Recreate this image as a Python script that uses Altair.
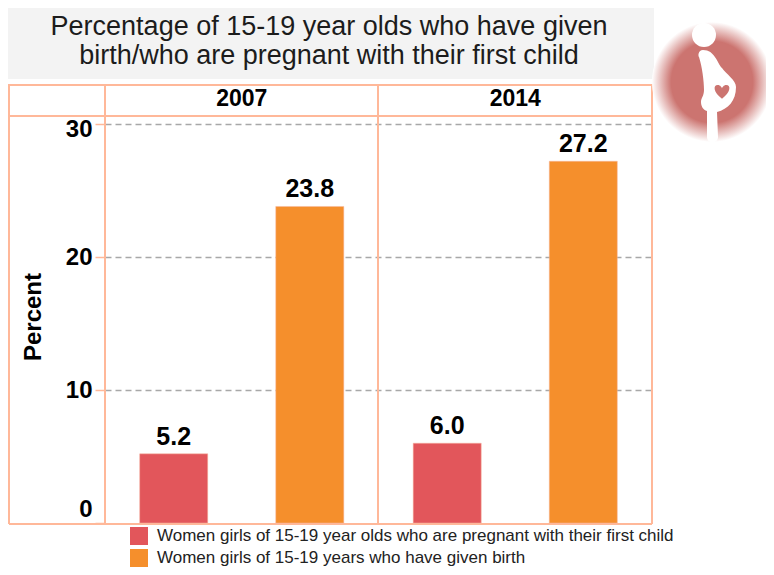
import altair as alt
import pandas as pd

years = ["2007", "2007", "2014", "2014"]
series = ["Women girls of 15-19 year olds who are pregnant with their first child",
          "Women girls of 15-19 years who have given birth"]
groups = [series[0], series[1], series[0], series[1]]
values = [5.2, 23.8, 6.0, 27.2]
labels = ["5.2", "23.8", "6.0", "27.2"]
ticks = [0, 10, 20, 30]
colors = ["#E2565B", "#F58F2C"]
title_lines = ["Percentage of 15-19 year olds who have given",
               "birth/who are pregnant with their first child"]

df = pd.DataFrame({"year": years, "group": groups, "value": values, "label": labels})
one = pd.DataFrame({"a": [1]})
FONT = "Liberation Sans"
FRAME = "#FFB899"

# plot area origin on the page is (105, 116)
def px(x): return x - 105
def py(y): return y - 116

xs = alt.X("year:N", axis=None, scale=alt.Scale(paddingInner=0, paddingOuter=0))
xo = alt.XOffset("group:N", sort=series,
                 scale=alt.Scale(domain=series, paddingInner=0.5, paddingOuter=0.255))
ys = alt.Y("value:Q", title=None,
           scale=alt.Scale(domain=[0, 30], range=[407, 8], nice=False),
           axis=alt.Axis(values=ticks, format="d", domain=False, ticks=True,
                         tickColor=FRAME, tickSize=10, tickWidth=1.5,
                         labelFont=FONT, labelFontSize=24, labelFontWeight="bold",
                         labelColor="#000", labelPadding=3,
                         labelOffset=alt.expr("datum.value == 0 ? -14 : datum.value == 30 ? 5 : 0"),
                         grid=True, gridColor="#A8A8A8", gridDash=[6, 4], gridWidth=1.5,
                         gridOpacity=alt.expr("datum.value == 0 ? 0 : 1")))

bg = alt.Chart(one).mark_rect(color="#F3F3F3").encode(
    x=alt.value(px(8)), x2=alt.value(px(654)), y=alt.value(py(8)), y2=alt.value(py(79)))

frame = []
for y in [85, 116, 524]:
    frame.append(alt.Chart(one).mark_rule(color=FRAME, strokeWidth=2).encode(
        x=alt.value(px(9)), x2=alt.value(px(652)), y=alt.value(py(y))))
for x in [9, 105, 378, 652]:
    frame.append(alt.Chart(one).mark_rule(color=FRAME, strokeWidth=2).encode(
        x=alt.value(px(x)), y=alt.value(py(84)), y2=alt.value(py(524))))

bars = alt.Chart(df).mark_bar(stroke="#F7B7A0", strokeWidth=0.5).encode(
    x=xs, xOffset=xo, y=ys,
    color=alt.Color("group:N", sort=series, title=None,
                    scale=alt.Scale(domain=series, range=colors),
                    legend=alt.Legend(orient="none", legendX=px(130), legendY=py(527),
                                      symbolType="square", symbolSize=324, symbolStrokeWidth=0,
                                      labelFont=FONT, labelFontSize=17, labelColor="#222",
                                      labelLimit=600, rowPadding=4, labelOffset=9, padding=0)))
bar_text = alt.Chart(df).mark_text(font=FONT, fontSize=25, fontWeight="bold", color="#000",
                                   dy=-17).encode(
    x=xs, xOffset=xo, y=ys, text="label:N")
head = alt.Chart(pd.DataFrame({"year": ["2007", "2014"]})).mark_text(
    font=FONT, fontSize=23, fontWeight="bold", color="#000").encode(
    x=xs, y=alt.value(py(98.5)), text="year:N")

pct = alt.Chart(one).mark_text(text="Percent", font=FONT, fontSize=24, fontWeight="bold",
                               angle=270, color="#000").encode(
    x=alt.value(px(34)), y=alt.value(py(317)))

title = [alt.Chart(one).mark_text(text=t, font=FONT, fontSize=27, color="#1c1c1c").encode(
    x=alt.value(px(329)), y=alt.value(py(yy))) for t, yy in zip(title_lines, [26.5, 55.5])]

grad = alt.RadialGradient(gradient="radial", stops=[
    alt.GradientStop(offset=0, color="#CC7470"),
    alt.GradientStop(offset=0.68, color="#CC7470"),
    alt.GradientStop(offset=1, color="#FFFFFF")])
R = 60
disc = alt.Chart(one).mark_point(shape="circle", filled=True, fill=grad, opacity=1,
                                 size=(2 * R) ** 2).encode(
    x=alt.value(px(712)), y=alt.value(py(82)))
headc = alt.Chart(one).mark_point(shape="circle", filled=True, color="white", opacity=1,
                                  size=24 ** 2).encode(x=alt.value(px(704)), y=alt.value(py(35)))
# silhouette path, unit-square coordinates around its centre
body_path = ("M -0.09 -0.46 C -0.14 -0.46 -0.14 -0.40 -0.13 -0.39 "
             "C -0.10 -0.30 -0.08 -0.15 -0.08 -0.06 C -0.08 0.00 -0.11 0.02 -0.11 0.06 "
             "C -0.11 0.10 -0.09 0.14 -0.05 0.15 L -0.05 0.41 C -0.05 0.48 0.06 0.48 0.06 0.41 "
             "L 0.05 0.16 C 0.16 0.13 0.24 0.05 0.24 -0.09 C 0.24 -0.16 0.14 -0.22 0.10 -0.28 "
             "C 0.05 -0.33 0.03 -0.46 -0.09 -0.46 Z")
body = alt.Chart(one).mark_point(shape=body_path, filled=True, color="white", opacity=1,
                                 size=200 ** 2).encode(x=alt.value(px(712)), y=alt.value(py(96)))
heart_path = ("M 0 0.45 C -0.5 0.1 -0.55 -0.35 -0.25 -0.35 C -0.1 -0.35 0 -0.2 0 -0.15 "
              "C 0 -0.2 0.1 -0.35 0.25 -0.35 C 0.55 -0.35 0.5 0.1 0 0.45 Z")
heart = alt.Chart(one).mark_point(shape=heart_path, filled=True, color="#CC7470", opacity=1,
                                  size=34 ** 2).encode(x=alt.value(px(722)), y=alt.value(py(91)))

chart = alt.layer(bg, *frame, bars, bar_text, head, pct, *title, disc, headc, body, heart).properties(
    width=547, height=408,
    padding={"left": 97, "top": 108, "right": 114, "bottom": 43},
    autosize=alt.AutoSizeParams(type="none"),
    background="white",
).configure_view(stroke=None)

chart.save("out.html", embed_options={"renderer": "svg", "actions": False})
